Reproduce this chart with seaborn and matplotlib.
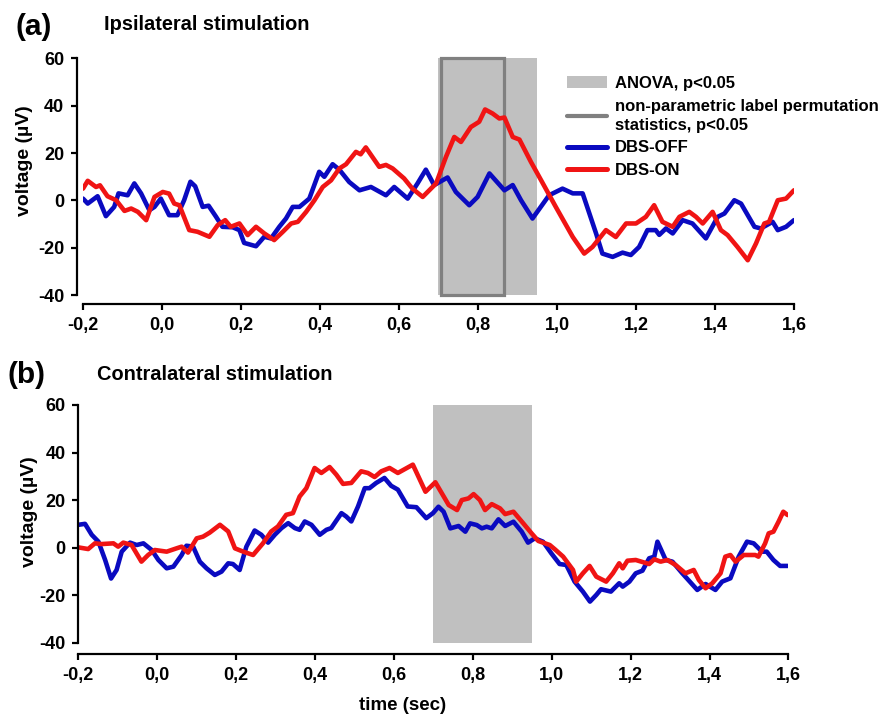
import matplotlib
matplotlib.use('Agg')
import matplotlib.pyplot as plt
from matplotlib.patches import Patch, Rectangle
from matplotlib.lines import Line2D
import seaborn as sns

# ---- data (time in s, voltage in uV) ----
a_off_t = [-0.2, -0.188, -0.163, -0.142, -0.121, -0.11, -0.087, -0.07, -0.053, -0.032, -0.019, -0.003,
           0.018, 0.039, 0.056, 0.072, 0.084, 0.103, 0.118, 0.137, 0.153, 0.179, 0.196, 0.208, 0.238,
           0.259, 0.276, 0.297, 0.314, 0.331, 0.348, 0.373, 0.398, 0.411, 0.432, 0.449, 0.474, 0.5,
           0.529, 0.567, 0.588, 0.622, 0.647, 0.668, 0.689, 0.723, 0.744, 0.778, 0.799, 0.829, 0.867,
           0.888, 0.909, 0.938, 0.98, 1.014, 1.04, 1.065, 1.099, 1.115, 1.141, 1.166, 1.187, 1.208,
           1.229, 1.25, 1.259, 1.276, 1.293, 1.318, 1.343, 1.377, 1.407, 1.424, 1.449, 1.466, 1.5,
           1.516, 1.546, 1.559, 1.58, 1.6]
a_off_v = [0.8, -1.3, 1.8, -6.6, -2.7, 3, 2.2, 7.2, 3, -4.1, -2.7, 0.8,
           -6.2, -6.2, 0.1, 7.9, 6, -2.7, -2.2, -6.9, -11.1, -11.3, -12.5, -17.9, -19.3,
           -15.3, -16, -11.1, -7.6, -2.7, -2.7, 0.8, 12.1, 10, 15.3, 13, 7.8, 4.3,
           5.7, 2.2, 5.7, 0.8, 7.2, 13, 6.5, 9.7, 3.6, -2, 1.5, 11.4, 4.3,
           6.5, 0.1, -7.6, 2.2, 5, 3, 3, -13.9, -22.4, -23.8, -22, -23, -19.6,
           -12.5, -12.5, -14.5, -11.8, -13.9, -8.3, -9.7, -16, -6.9, -5.5, 0.1, -1.3, -11.1,
           -11.8, -9, -12.5, -11.1, -8.3]

a_on_t = [-0.2, -0.188, -0.167, -0.157, -0.138, -0.116, -0.095, -0.078, -0.061, -0.04, -0.019, 0.002,
          0.018, 0.031, 0.044, 0.069, 0.09, 0.12, 0.141, 0.16, 0.174, 0.196, 0.217, 0.238, 0.259,
          0.284, 0.306, 0.327, 0.344, 0.365, 0.386, 0.407, 0.428, 0.449, 0.466, 0.491, 0.503, 0.516,
          0.55, 0.567, 0.584, 0.613, 0.634, 0.66, 0.694, 0.719, 0.74, 0.757, 0.782, 0.803, 0.818,
          0.837, 0.854, 0.867, 0.888, 0.905, 0.934, 0.955, 0.997, 1.04, 1.069, 1.09, 1.124, 1.149,
          1.175, 1.2, 1.225, 1.246, 1.267, 1.293, 1.31, 1.335, 1.352, 1.369, 1.394, 1.415, 1.432,
          1.457, 1.483, 1.504, 1.525, 1.537, 1.559, 1.58, 1.6]
a_on_v = [5, 8.3, 5.7, 6.4, 1.8, 0.1, -4.4, -3.4, -4.8, -8.3, 1.5, 3.6,
          2.9, -1.3, -2, -12.5, -13.2, -15.3, -10.4, -8.3, -11.1, -9.7, -14.6, -11.1, -13.9,
          -16.7, -13.2, -9.7, -9, -4.8, 0.1, 5.7, 8.5, 13.5, 15.3, 20.5, 19.5, 22.4,
          14.2, 15, 13.5, 9.3, 5, 1.5, 7.2, 18.4, 26.8, 24.7, 31, 33.2, 38.4,
          36.7, 34.6, 35, 26.8, 25.7, 16.3, 10, -2.7, -15.4, -22.4, -19.6, -12.5, -15.4,
          -9.7, -9.7, -6.9, -2, -9, -11.1, -6.9, -4.8, -6.9, -9.7, -4.8, -12.5, -14.6,
          -19.6, -25.2, -18.1, -9.7, -9, 0.1, 0.8, 4.3]

b_off_t = [-0.2, -0.183, -0.166, -0.149, -0.132, -0.117, -0.103, -0.09, -0.069, -0.052, -0.035, -0.014,
           0.003, 0.024, 0.041, 0.062, 0.074, 0.091, 0.108, 0.125, 0.146, 0.163, 0.18, 0.192, 0.209,
           0.226, 0.247, 0.264, 0.281, 0.298, 0.315, 0.332, 0.349, 0.361, 0.374, 0.391, 0.412, 0.429,
           0.441, 0.467, 0.479, 0.492, 0.509, 0.526, 0.538, 0.555, 0.576, 0.593, 0.61, 0.635, 0.657,
           0.682, 0.699, 0.713, 0.726, 0.743, 0.764, 0.781, 0.793, 0.81, 0.823, 0.835, 0.848, 0.865,
           0.882, 0.903, 0.924, 0.94, 0.957, 0.978, 0.999, 1.02, 1.037, 1.058, 1.079, 1.097, 1.113,
           1.125, 1.15, 1.171, 1.18, 1.197, 1.213, 1.23, 1.247, 1.26, 1.268, 1.289, 1.306, 1.331,
           1.369, 1.39, 1.415, 1.432, 1.453, 1.474, 1.495, 1.512, 1.533, 1.545, 1.562, 1.579, 1.598]
b_off_v = [9.6, 10, 5.4, 2.5, -5.2, -13, -9.4, -1.7, 2.1, 1.1, 1.8, -1,
           -5.2, -8.7, -8, -3.1, 0.8, 0.4, -5.9, -8.7, -11.5, -10.1, -6.6, -6.9, -9.4,
           0.4, 7.2, 5.4, 2.1, 5.4, 8.2, 10.3, 8.2, 7.5, 11, 9.6, 5.4, 7.5,
           8.2, 14.5, 13.1, 11, 17.3, 25, 25, 27.2, 29.3, 26, 24.4, 17.3, 17,
           12.4, 14.5, 17.2, 15.1, 8.1, 9.1, 6.7, 10.2, 9.5, 8.1, 8.8, 8.1, 11.9,
           9.1, 10.9, 6.7, 2.1, 3.9, 2.5, -2.4, -6.9, -7.3, -14.3, -18.5, -22.7, -19.9,
           -17.5, -18.5, -15, -16.4, -14.3, -10.8, -9.7, -4.5, -3.8, 2.5, -5.2, -5.9, -10.8,
           -17.8, -15.3, -17.8, -14.3, -12.9, -3.8, 2.5, 1.8, -1.7, -1.7, -5.2, -7.7, -7.7]

b_on_t = [-0.2, -0.175, -0.158, -0.141, -0.111, -0.099, -0.086, -0.065, -0.04, -0.023, -0.006, 0.024,
          0.049, 0.062, 0.078, 0.1, 0.116, 0.133, 0.159, 0.18, 0.197, 0.218, 0.243, 0.268, 0.289,
          0.306, 0.327, 0.344, 0.361, 0.378, 0.399, 0.416, 0.437, 0.454, 0.471, 0.492, 0.517, 0.534,
          0.551, 0.568, 0.589, 0.61, 0.648, 0.68, 0.705, 0.739, 0.76, 0.772, 0.789, 0.802, 0.818,
          0.831, 0.848, 0.869, 0.882, 0.903, 0.928, 0.949, 0.966, 0.995, 1.008, 1.029, 1.054, 1.062,
          1.079, 1.096, 1.113, 1.138, 1.155, 1.171, 1.18, 1.192, 1.213, 1.247, 1.26, 1.276, 1.293,
          1.314, 1.339, 1.36, 1.373, 1.39, 1.407, 1.428, 1.44, 1.453, 1.466, 1.487, 1.516, 1.524,
          1.541, 1.55, 1.562, 1.575, 1.587, 1.598]
b_on_v = [0.1, -0.6, 1.8, 1.5, 1.8, 0.4, 2.1, 1.1, -5.9, -3.1, -1, -1.7,
          -0.3, 0.4, -2.1, 3.9, 4.6, 6.3, 9.6, 6.8, -0.3, -1.7, -3.1, 1.8, 6.8,
          8.9, 13.8, 14.5, 21.5, 25, 33.5, 31.4, 33.9, 30.7, 26.8, 27.2, 32.1, 31.4,
          29.7, 32.1, 33.5, 31.4, 34.9, 23.5, 27.5, 17.9, 15.8, 20, 20.7, 22.5, 20,
          15.8, 18.3, 16.5, 14.1, 15.1, 10.2, 6, 2.8, 1.1, -0.7, -3.8, -9.4, -14.3,
          -10.8, -7.7, -12.2, -14.3, -10.8, -6.6, -8.7, -5.5, -5.2, -6.9, -4.9, -5.9, -5.2,
          -7.3, -10.8, -9.4, -13.6, -17.1, -15, -10.8, -3.8, -3.1, -5.9, -3.1, -3.1, -3.8,
          1.8, 6, 6.7, 10.9, 15.1, 13.7]

anova_a = (0.70, 0.95)
perm_a = (0.707, 0.865)
anova_b = (0.70, 0.95)

xticks = [-0.2, 0.0, 0.2, 0.4, 0.6, 0.8, 1.0, 1.2, 1.4, 1.6]
xticklabels = ['-0,2', '0,0', '0,2', '0,4', '0,6', '0,8', '1,0', '1,2', '1,4', '1,6']
yticks = [-40, -20, 0, 20, 40, 60]

BLUE = '#0a0ac0'
RED = '#f01414'
SHADE = '#c0c0c0'
BOXC = '#808080'
LW = 3.3

sns.set_style('ticks')
plt.rcParams['font.family'] = ['Liberation Sans', 'DejaVu Sans']
plt.rcParams['font.weight'] = 'bold'
plt.rcParams['axes.unicode_minus'] = False
plt.rcParams['text.color'] = 'black'
plt.rcParams['axes.labelcolor'] = 'black'
plt.rcParams['lines.solid_joinstyle'] = 'round'

PX = 72 / 100  # points per pixel at dpi 100


def style_axes(ax, left_off, bottom_off):
    ax.set_xlim(-0.2, 1.6)
    ax.set_ylim(-40, 60)
    sns.despine(ax=ax)
    ax.spines['left'].set_position(('outward', left_off * PX))
    ax.spines['bottom'].set_position(('outward', bottom_off * PX))
    for s in ('left', 'bottom'):
        ax.spines[s].set_linewidth(2.2 * PX)
        ax.spines[s].set_color('black')
    ax.set_xticks(xticks)
    ax.set_xticklabels(xticklabels)
    ax.set_yticks(yticks)
    ax.tick_params(length=6 * PX, width=2.2 * PX, labelsize=13, colors='black',
                   labelcolor='black', pad=5)
    ax.set_facecolor('none')


fig = plt.figure(figsize=(8.81, 7.15), dpi=100)

# ---- panel (a) ----
ax1 = fig.add_axes([0.0942, 0.587, 0.807, 0.3315])
ax1.axvspan(*anova_a, color=SHADE, lw=0, zorder=0)
ax1.add_patch(Rectangle((perm_a[0], -40), perm_a[1] - perm_a[0], 100, fill=False,
                        edgecolor=BOXC, lw=3.2 * PX, zorder=1, clip_on=False))
sns.lineplot(x=a_off_t, y=a_off_v, ax=ax1, color=BLUE, lw=LW, sort=False, estimator=None)
sns.lineplot(x=a_on_t, y=a_on_v, ax=ax1, color=RED, lw=LW, sort=False, estimator=None)
style_axes(ax1, 6, 9)
ax1.set_xlabel('')
ax1.set_ylabel('voltage (µV)', fontsize=14, fontweight='bold')
ax1.yaxis.set_label_coords(-0.071, 0.567)

# ---- panel (b) ----
ax2 = fig.add_axes([0.0889, 0.1011, 0.806, 0.3325])
ax2.axvspan(*anova_b, color=SHADE, lw=0, zorder=0)
sns.lineplot(x=b_off_t, y=b_off_v, ax=ax2, color=BLUE, lw=LW, sort=False, estimator=None)
sns.lineplot(x=b_on_t, y=b_on_v, ax=ax2, color=RED, lw=LW, sort=False, estimator=None)
style_axes(ax2, 0, 11)
ax2.set_ylabel('voltage (µV)', fontsize=14, fontweight='bold')
ax2.yaxis.set_label_coords(-0.057, 0.552)
ax2.set_xlabel('time (sec)', fontsize=13.5, fontweight='bold')
ax2.xaxis.set_label_coords(0.456, -0.228)

# ---- panel letters and titles ----
fig.text(0.018, 0.962, '(a)', fontsize=21.5, fontweight='bold', va='center')
fig.text(0.118, 0.966, 'Ipsilateral stimulation', fontsize=14.4, fontweight='bold', va='center')
fig.text(0.009, 0.476, '(b)', fontsize=21.5, fontweight='bold', va='center')
fig.text(0.110, 0.476, 'Contralateral stimulation', fontsize=14.4, fontweight='bold', va='center')

# ---- legend ----
handles = [Patch(facecolor=SHADE, edgecolor='none'),
           Line2D([], [], color=BOXC, lw=3.0),
           Line2D([], [], color=BLUE, lw=3.6),
           Line2D([], [], color=RED, lw=3.6)]
labels = ['ANOVA, p<0.05',
          'non-parametric label permutation\nstatistics, p<0.05',
          'DBS-OFF', 'DBS-ON']
leg = fig.legend(handles, labels, loc='upper left', bbox_to_anchor=(0.6436, 0.8935),
                 bbox_transform=fig.transFigure, frameon=False,
                 handlelength=2.4, handletextpad=0.45, labelspacing=0.45,
                 borderpad=0, borderaxespad=0, prop={'weight': 'bold', 'size': 12})
for txt in leg.get_texts():
    txt.set_linespacing(1.35)

fig.savefig('out.png', dpi=100, facecolor='white')
